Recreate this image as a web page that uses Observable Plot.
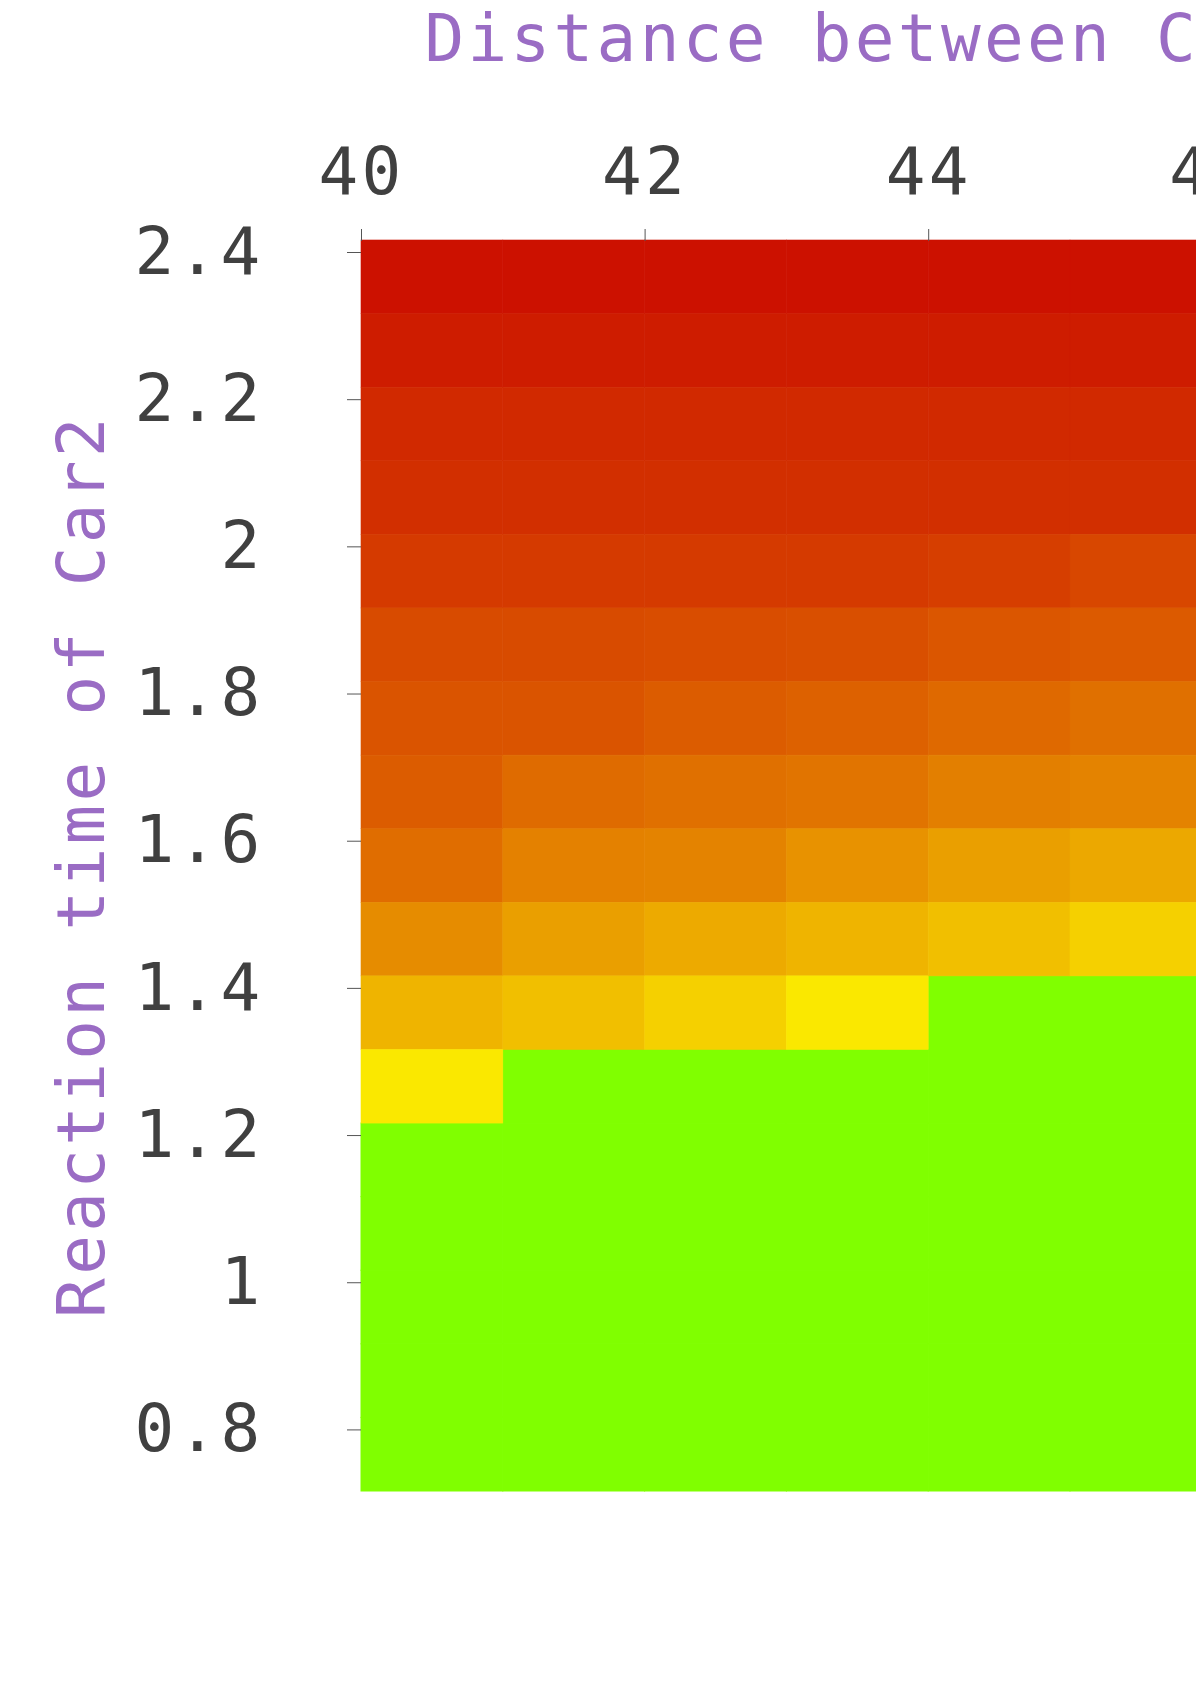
<!DOCTYPE html>
<html>
<head>
<meta charset="utf-8">
<script src="https://cdn.jsdelivr.net/npm/d3@7"></script>
<script src="https://cdn.jsdelivr.net/npm/@observablehq/plot@0.6"></script>
<style>
  html, body { margin: 0; padding: 0; background: #fff; overflow: hidden; }
  #wrap { width: 1879px; }
  #title {
    margin-left: 361px; width: 1418px; text-align: center; white-space: nowrap;
    font-family: "DejaVu Sans Mono", monospace; font-size: 66px; line-height: 78px;
    letter-spacing: 3.3px; color: #9a6cc4; height: 78px;
  }
  svg { display: block; }
</style>
</head>
<body>
<div id="wrap">
  <div id="title">Distance between Car1 and Car2</div>
  <div id="chart"></div>
</div>
<script>
// Distance between cars (left edge of each cell, metres)
const distances = [40, 41, 42, 43, 44, 45];
// Reaction time of Car2 (lower edge of each row, seconds)
const reactionTimes = [2.3, 2.2, 2.1, 2.0, 1.9, 1.8, 1.7, 1.6, 1.5, 1.4, 1.3, 1.2, 1.1, 1.0, 0.9, 0.8, 0.7];
// Collision severity (0 = mild/yellow, 1 = severe/red), null = no collision (green)
const severity = [
  [1.00, 1.00, 1.00, 1.00, 1.00, 1.00],
  [0.95, 0.95, 0.95, 0.95, 0.95, 0.95],
  [0.89, 0.89, 0.89, 0.89, 0.89, 0.89],
  [0.86, 0.86, 0.86, 0.86, 0.86, 0.86],
  [0.81, 0.81, 0.81, 0.81, 0.79, 0.75],
  [0.73, 0.73, 0.72, 0.71, 0.68, 0.66],
  [0.69, 0.69, 0.65, 0.63, 0.59, 0.56],
  [0.65, 0.58, 0.56, 0.54, 0.49, 0.47],
  [0.57, 0.48, 0.47, 0.40, 0.34, 0.30],
  [0.43, 0.34, 0.29, 0.24, 0.19, 0.11],
  [0.24, 0.19, 0.11, 0.00, null, null],
  [0.00, null, null, null, null, null],
  [null, null, null, null, null, null],
  [null, null, null, null, null, null],
  [null, null, null, null, null, null],
  [null, null, null, null, null, null],
  [null, null, null, null, null, null]
];
const xTicks = [40, 42, 44, 46, 48, 50];
const yTicks = [0.8, 1, 1.2, 1.4, 1.6, 1.8, 2, 2.2, 2.4];
const xDomain = [40, 50];
const yDomain = [0.7, 2.4];
const cellW = 1, cellH = 0.1;

const cells = [];
reactionTimes.forEach((rt, i) => {
  distances.forEach((d, j) => {
    cells.push({x1: d, x2: d + cellW, y1: rt, y2: +(rt + cellH).toFixed(2), v: severity[i][j]});
  });
});

const fontSize = 66;
const chart = Plot.plot({
  width: 1879,
  height: 1606,
  marginLeft: 361,
  marginRight: 100,
  marginTop: 162,
  marginBottom: 193,
  style: {fontFamily: "'DejaVu Sans Mono', monospace", letterSpacing: "3.3px", background: "#fff"},
  x: {domain: xDomain},
  y: {domain: yDomain},
  color: {type: "linear", domain: [0, 1], range: ["#fae800", "#cc1100"], interpolate: "rgb"},
  marks: [
    Plot.rect(cells.filter(d => d.v == null), {x1: "x1", x2: "x2", y1: "y1", y2: "y2", fill: "#80ff00", stroke: "#80ff00", strokeWidth: 1}),
    Plot.rect(cells.filter(d => d.v != null), {x1: "x1", x2: "x2", y1: "y1", y2: "y2", fill: "v", stroke: "v", strokeWidth: 0.6}),
    Plot.axisX({anchor: "top", ticks: xTicks, tickSize: 12, tickPadding: 35, fontSize, label: null, stroke: "#555", fill: "#404040"}),
    Plot.axisY({anchor: "left", ticks: yTicks, tickFormat: d => `${d}`, tickSize: 14, tickPadding: 84, fontSize, label: null, stroke: "#555", fill: "#404040", dy: 12}),
    Plot.text(["Reaction time of Car2"], {text: d => d, frameAnchor: "left", textAnchor: "middle", rotate: -90, dx: -258, lineAnchor: "bottom", fill: "#9a6cc4", fontSize})
  ]
});
document.getElementById("chart").appendChild(chart);
</script>
</body>
</html>
